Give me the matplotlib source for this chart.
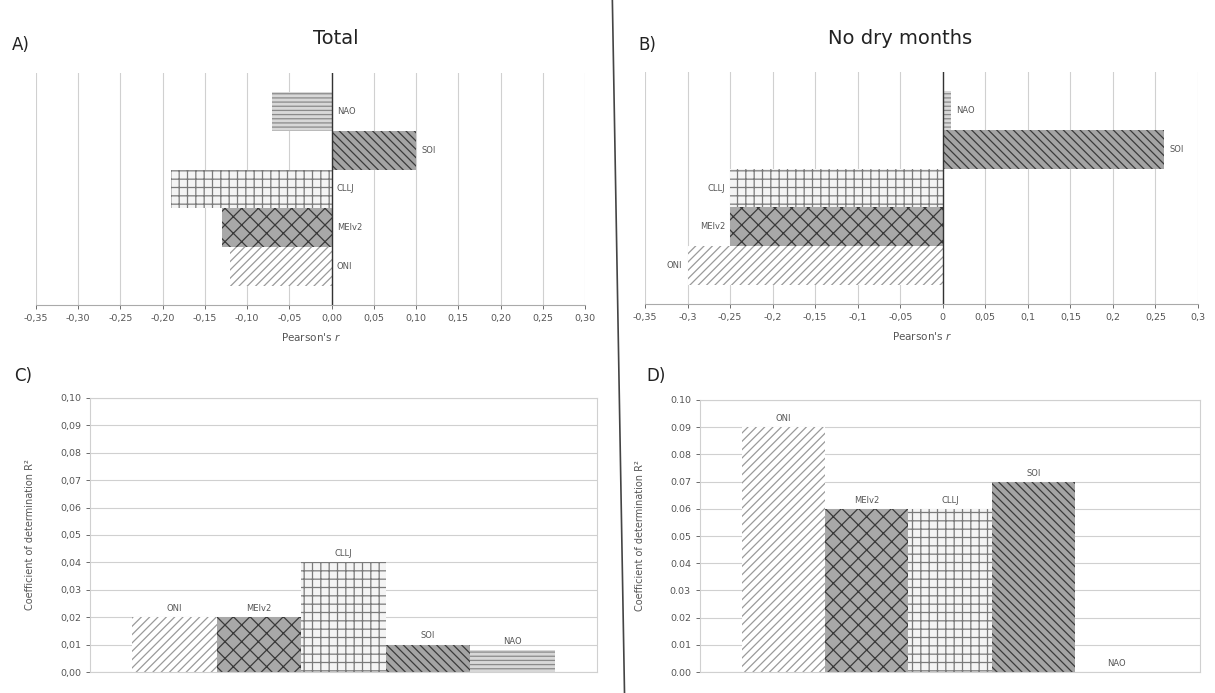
import matplotlib
matplotlib.use('Agg')
import matplotlib.pyplot as plt
from matplotlib.ticker import FuncFormatter, MultipleLocator

# datos
indices = ['ONI', 'MEIv2', 'CLLJ', 'SOI', 'NAO']
r_total = [-0.12, -0.13, -0.19, 0.10, -0.07]
r_nodry = [-0.30, -0.25, -0.25, 0.26, 0.01]
r2_total = [0.02, 0.02, 0.04, 0.01, 0.008]
r2_nodry = [0.09, 0.06, 0.06, 0.07, 0.00]

# estilo de cada indice: (relleno, color de trama, trama)
estilos = {
    'ONI': ('white', '#9a9a9a', '////'),
    'MEIv2': ('#a8a8a8', '#3a3a3a', 'xx'),
    'CLLJ': ('#f4f4f4', '#7a7a7a', '++'),
    'SOI': ('#a4a4a4', '#3a3a3a', '\\\\\\\\'),
    'NAO': ('#d8d8d8', '#8a8a8a', '----'),
}

plt.rcParams['hatch.linewidth'] = 0.9
txt_gray = '#555555'
grid_gray = '#d0d0d0'

fig = plt.figure(figsize=(12.15, 6.93), dpi=100)


def comma(v, pos, nd=2):
    return ('%.*f' % (nd, v)).replace('.', ',')


def comma_short(v, pos):
    s = ('%.2f' % v).rstrip('0').rstrip('.')
    if s in ('-0', ''):
        s = '0'
    return s.replace('.', ',')


def barras_h(ax, valores, etiquetas_izq):
    for i, name in enumerate(indices):
        fc, hc, h = estilos[name]
        ax.barh(i, valores[i], height=1.0, color=fc, edgecolor=hc, hatch=h, linewidth=0, zorder=2)
        v = valores[i]
        if v >= 0:
            ax.text(v + 0.006, i, name, fontsize=6, color=txt_gray, va='center', ha='left', zorder=3)
        elif etiquetas_izq:
            ax.text(v - 0.006, i, name, fontsize=6, color=txt_gray, va='center', ha='right', zorder=3)
        else:
            ax.text(0.006, i, name, fontsize=6, color=txt_gray, va='center', ha='left', zorder=3)
    ax.set_xlim(-0.35, 0.30)
    ax.set_ylim(-1.0, 5.0)
    ax.xaxis.set_major_locator(MultipleLocator(0.05))
    ax.grid(axis='x', color=grid_gray, linewidth=0.8, zorder=0)
    ax.axvline(0, color='#333333', linewidth=1.0, zorder=4)
    ax.set_yticks([])
    ax.tick_params(axis='x', labelsize=6.8, colors=txt_gray, length=3, width=0.6)
    for s in ['top', 'right', 'left']:
        ax.spines[s].set_visible(False)
    ax.spines['bottom'].set_color('#aaaaaa')
    ax.set_xlabel("Pearson's $r$", fontsize=7.5, color=txt_gray, labelpad=6)


def barras_v(ax, valores, fmt):
    for i, name in enumerate(indices):
        fc, hc, h = estilos[name]
        ax.bar(i, valores[i], width=1.0, color=fc, edgecolor=hc, hatch=h, linewidth=0, zorder=2)
        ax.text(i, valores[i] + 0.0015, name, fontsize=6, color=txt_gray, ha='center', va='bottom', zorder=3)
    ax.set_xlim(-1.0, 5.0)
    ax.set_ylim(0, 0.10)
    ax.yaxis.set_major_locator(MultipleLocator(0.01))
    ax.yaxis.set_major_formatter(FuncFormatter(fmt))
    ax.grid(axis='y', color=grid_gray, linewidth=0.8, zorder=0)
    ax.set_xticks([])
    ax.tick_params(axis='y', labelsize=6.8, colors=txt_gray, length=3, width=0.6)
    for s in ['top', 'right', 'left', 'bottom']:
        ax.spines[s].set_color(grid_gray)
    ax.set_ylabel('Coefficient of determination R²', fontsize=7, color=txt_gray, labelpad=18)


# A) Total
axA = fig.add_axes([0.0296, 0.5599, 0.4519, 0.3348])
barras_h(axA, r_total, False)
axA.xaxis.set_major_formatter(FuncFormatter(comma))

# B) No dry months
axB = fig.add_axes([0.5309, 0.5613, 0.4551, 0.3348])
barras_h(axB, r_nodry, True)
axB.xaxis.set_major_formatter(FuncFormatter(comma_short))

# C) R2 total
axC = fig.add_axes([0.0741, 0.0303, 0.4173, 0.3954])
barras_v(axC, r2_total, comma)

# D) R2 no dry months
axD = fig.add_axes([0.5761, 0.0303, 0.4116, 0.3925])
barras_v(axD, r2_nodry, lambda v, p: '%.2f' % v)

fig.text(0.276, 0.945, 'Total', fontsize=14, ha='center', va='center', color='#222222')
fig.text(0.741, 0.945, 'No dry months', fontsize=14, ha='center', va='center', color='#222222')
fig.text(0.010, 0.935, 'A)', fontsize=12, ha='left', va='center', color='#222222')
fig.text(0.525, 0.935, 'B)', fontsize=12, ha='left', va='center', color='#222222')
fig.text(0.012, 0.458, 'C)', fontsize=12, ha='left', va='center', color='#222222')
fig.text(0.532, 0.458, 'D)', fontsize=12, ha='left', va='center', color='#222222')

# linea divisoria
fig.add_artist(plt.Line2D([0.504, 0.514], [1.0, 0.0], transform=fig.transFigure, color='#444444', linewidth=1.2))

fig.savefig('out.png', dpi=100, facecolor='white')
